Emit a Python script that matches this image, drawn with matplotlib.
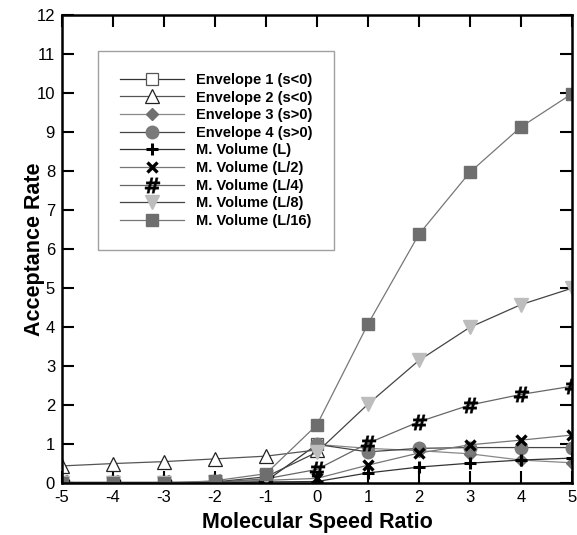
"""Acceptance rate versus molecular speed ratio for envelope and volume methods."""

import matplotlib
matplotlib.use("Agg")
import matplotlib.pyplot as plt

plt.rcParams["font.family"] = ["Liberation Sans", "DejaVu Sans"]
plt.rcParams["axes.unicode_minus"] = False

speed_ratio = [-5, -4, -3, -2, -1, 0, 1, 2, 3, 4, 5]
speed_neg = [-5, -4, -3, -2, -1, 0]
speed_pos = [0, 1, 2, 3, 4, 5]

envelope_1 = [0.03, 0.03, 0.03, 0.04, 0.06, 1.0]
envelope_2 = [0.45, 0.51, 0.56, 0.63, 0.70, 0.86]
envelope_3 = [1.0, 0.90, 0.84, 0.76, 0.60, 0.53]
envelope_4 = [1.0, 0.81, 0.90, 0.92, 0.92, 0.92]

volume_l = [0.0, 0.0, 0.0, 0.01, 0.04, 0.05, 0.27, 0.42, 0.52, 0.60, 0.65]
volume_l2 = [0.0, 0.0, 0.0, 0.02, 0.08, 0.13, 0.47, 0.78, 0.99, 1.11, 1.24]
volume_l4 = [0.0, 0.0, 0.0, 0.03, 0.12, 0.36, 1.03, 1.58, 2.01, 2.28, 2.49]
volume_l8 = [0.0, 0.0, 0.0, 0.04, 0.17, 0.80, 2.03, 3.15, 4.0, 4.58, 5.0]
volume_l16 = [0.0, 0.0, 0.0, 0.07, 0.25, 1.5, 4.08, 6.38, 7.97, 9.13, 9.98]

labels = [
    "Envelope 1 (s<0)",
    "Envelope 2 (s<0)",
    "Envelope 3 (s>0)",
    "Envelope 4 (s>0)",
    "M. Volume (L)",
    "M. Volume (L/2)",
    "M. Volume (L/4)",
    "M. Volume (L/8)",
    "M. Volume (L/16)",
]

fig = plt.figure(figsize=(5.77, 5.35), dpi=100)
ax = fig.add_axes([0.1075, 0.0963, 0.8835, 0.8757])

line_kw = dict(linewidth=0.9)

ax.plot(speed_neg, envelope_1, color="#333333", marker="s", markersize=8.5,
        markerfacecolor="white", markeredgecolor="#555555", markeredgewidth=0.9,
        label=labels[0], **line_kw)
ax.plot(speed_neg, envelope_2, color="#555555", marker="^", markersize=9.5,
        markerfacecolor="white", markeredgecolor="#222222", markeredgewidth=0.9,
        label=labels[1], **line_kw)
ax.plot(speed_pos, envelope_3, color="#888888", marker="D", markersize=6.5,
        markerfacecolor="#707070", markeredgecolor="#707070",
        label=labels[2], **line_kw)
ax.plot(speed_pos, envelope_4, color="#444444", marker="o", markersize=9,
        markerfacecolor="#7a7a7a", markeredgecolor="#7a7a7a",
        label=labels[3], **line_kw)
ax.plot(speed_ratio, volume_l, color="#333333", marker="+", markersize=9,
        markeredgecolor="black", markeredgewidth=2.2,
        label=labels[4], **line_kw)
ax.plot(speed_ratio, volume_l2, color="#777777", marker="x", markersize=6.5,
        markeredgecolor="black", markeredgewidth=2.4,
        label=labels[5], **line_kw)
ax.plot(speed_ratio, volume_l4, color="#666666", marker=r"$\mathbf{\#}$", markersize=11,
        markerfacecolor="black", markeredgecolor="black", markeredgewidth=0.3,
        label=labels[6], **line_kw)
ax.plot(speed_ratio, volume_l8, color="#444444", marker="v", markersize=9.5,
        markerfacecolor="#bdbdbd", markeredgecolor="#bdbdbd",
        label=labels[7], **line_kw)
ax.plot(speed_ratio, volume_l16, color="#777777", marker="s", markersize=8.5,
        markerfacecolor="#6e6e6e", markeredgecolor="#6e6e6e",
        label=labels[8], **line_kw)

ax.set_xlim(-5, 5)
ax.set_ylim(0, 12)
ax.set_xticks(range(-5, 6))
ax.set_yticks(range(0, 13))

for spine in ax.spines.values():
    spine.set_linewidth(1.8)

ax.tick_params(direction="in", length=8.5, width=1.5, labelsize=12,
               top=True, right=True, pad=5)

ax.set_xlabel("Molecular Speed Ratio", fontsize=15.5, fontweight="bold", labelpad=5)
ax.set_ylabel("Acceptance Rate", fontsize=15.5, fontweight="bold", labelpad=-6.5)

legend = ax.legend(loc="upper left", bbox_to_anchor=(98 / 577, 1 - 51 / 535),
                   bbox_transform=fig.transFigure,
                   prop={"weight": "bold", "size": 10.5},
                   frameon=True, fancybox=False, edgecolor="#888888",
                   borderpad=1.5, labelspacing=0.25, handlelength=4.4,
                   handletextpad=0.8, borderaxespad=0)
legend.get_frame().set_linewidth(1.0)

fig.savefig("out.png", dpi=100)
